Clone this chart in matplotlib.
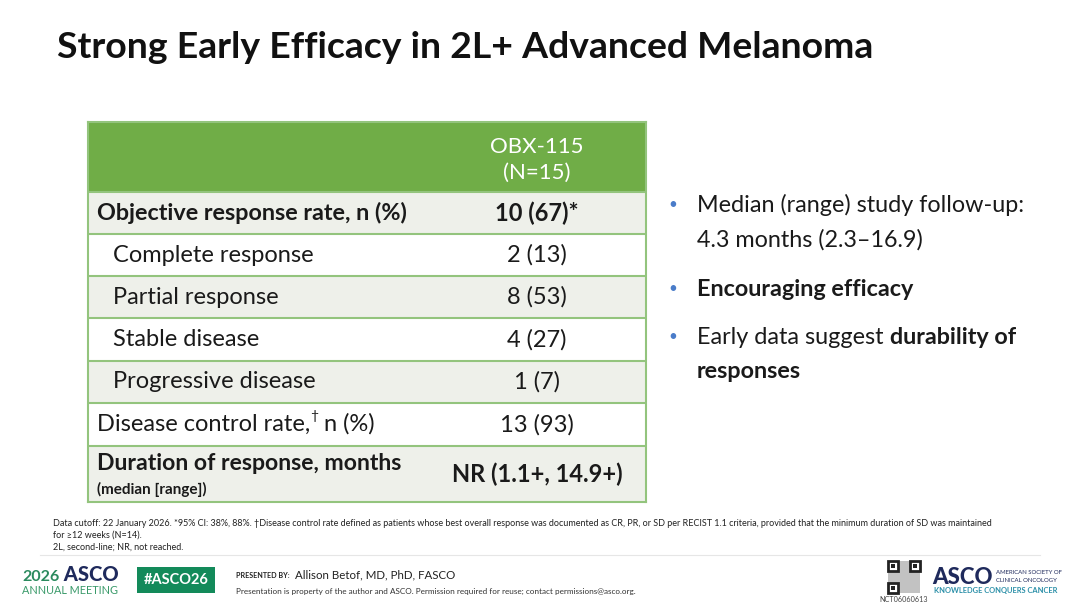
import matplotlib
matplotlib.use('Agg')
import matplotlib.pyplot as plt
from matplotlib.patches import Rectangle

plt.rcParams['font.family'] = ['Lato', 'DejaVu Sans']

# slide content
title = "Strong Early Efficacy in 2L+ Advanced Melanoma"
col_header = ["OBX-115", "(N=15)"]
row_labels = ["Objective response rate, n (%)", "Complete response", "Partial response",
              "Stable disease", "Progressive disease", "Disease control rate,",
              "Duration of response, months"]
row_values = ["10 (67)*", "2 (13)", "8 (53)", "4 (27)", "1 (7)", "13 (93)", "NR (1.1+, 14.9+)"]
row_bold = [True, False, False, False, False, False, True]
row_indent = [False, True, True, True, True, False, False]
row_shaded = [True, False, True, False, True, False, True]
dcr_suffix = " n (%)"
dor_sub = "(median [range])"

bullets = [
    [("Median (range) study follow-up:", False)],
    [("4.3 months (2.3\u201316.9)", False)],
    [("Encouraging efficacy", True)],
    [("Early data suggest ", False), ("durability of", True)],
    [("responses", True)],
]
bullet_marks = [True, False, True, True, False]

footnotes = [
    "Data cutoff: 22 January 2026. *95% CI: 38%, 88%. \u2020Disease control rate defined as patients whose best overall response was documented as CR, PR, or SD per RECIST 1.1 criteria, provided that the minimum duration of SD was maintained",
    "for \u226512 weeks (N=14).",
    "2L, second-line; NR, not reached.",
]
presenter = "Allison Betof, MD, PhD, FASCO"
disclaimer = "Presentation is property of the author and ASCO. Permission required for reuse; contact permissions@asco.org."
trial_id = "NCT06060613"

GREEN = '#70ad47'
LINE = '#93c47d'
SHADE = '#eef0ea'
TEXT = '#1a1a1a'

fig = plt.figure(figsize=(10.8, 6.08), dpi=100)
ax = fig.add_axes([0, 0, 1, 1])
ax.set_xlim(0, 1080)
ax.set_ylim(608, 0)
ax.axis('off')

ax.text(57, 47, title, fontsize=26.9, fontweight='bold', color='#111111', va='center', ha='left')

# table
x0, x1 = 88, 646
val_x = 537
head_top, head_bot = 122, 192
row_h = [42, 42, 42, 43, 42, 43, 56]

ax.add_patch(Rectangle((x0, head_top), x1 - x0, head_bot - head_top, facecolor=GREEN, edgecolor='none'))
ax.text(val_x, 147, col_header[0], fontsize=16, color='white', ha='center', va='center')
ax.text(val_x, 173, col_header[1], fontsize=16, color='white', ha='center', va='center')

y = head_bot
for i, lab in enumerate(row_labels):
    h = row_h[i]
    fc = SHADE if row_shaded[i] else 'white'
    ax.add_patch(Rectangle((x0, y), x1 - x0, h, facecolor=fc, edgecolor='none'))
    ax.plot([x0, x1], [y, y], color=LINE, lw=1.5, solid_capstyle='butt')
    lx = 113 if row_indent[i] else 97
    fw = 'bold' if row_bold[i] else 'normal'
    if i == len(row_labels) - 1:
        ax.text(lx, y + 18, lab, fontsize=16.6, fontweight='bold', color=TEXT, va='center')
        ax.text(lx, y + 43, dor_sub, fontsize=11, fontweight='bold', color=TEXT, va='center')
    else:
        t = ax.text(lx, y + h / 2, lab, fontsize=17 if not row_bold[i] else 16.8,
                    fontweight=fw, color=TEXT, va='center')
        if i == 5:
            d = ax.annotate("\u2020", xy=(1, 0.6), xycoords=t, fontsize=10, color=TEXT, va='bottom')
            ax.annotate(dcr_suffix, xy=(1, 0), xycoords=(d, t), fontsize=17, color=TEXT, va='bottom')
    ax.text(val_x, y + h / 2, row_values[i], fontsize=17, fontweight=fw, color=TEXT,
            ha='center', va='center')
    y += h
ax.plot([x0, x1], [y, y], color=LINE, lw=1.5)
ax.plot([x0, x0], [head_top, y], color=LINE, lw=1.5)
ax.plot([x1, x1], [head_top, y], color=LINE, lw=1.5)
ax.plot([x0, x1], [head_top, head_top], color=LINE, lw=1.5)

# bullets
line_y = [205, 240, 289, 337, 372]
for parts, mark, ly in zip(bullets, bullet_marks, line_y):
    if mark:
        ax.text(668, ly, "\u2022", fontsize=11, color='#4a7cc9', ha='left', va='center')
    prev = None
    for txt, bold in parts:
        fw = 'bold' if bold else 'normal'
        if prev is None:
            prev = ax.text(697, ly, txt, fontsize=16.8, fontweight=fw, color=TEXT, va='center')
        else:
            prev = ax.annotate(txt, xy=(1, 0), xycoords=prev, fontsize=16.8, fontweight=fw,
                               color=TEXT, va='bottom')

# footnotes
for k, fn in enumerate(footnotes):
    ax.text(53, 523 + k * 12, fn, fontsize=6.5, color='#222222', va='center')
ax.plot([40, 1040], [555, 555], color='#e6e6e6', lw=0.8)

# footer left
t26 = ax.text(22, 577, "2026", fontsize=11.5, fontweight='bold', color='#2b8a5e', va='center')
ax.annotate(" ASCO", xy=(1, 0), xycoords=t26, fontsize=14.5, fontweight='black', color='#1f2a5c', va='bottom')
ax.text(22, 590, "ANNUAL MEETING", fontsize=7.8, color='#3a9a6a', va='center')
ax.add_patch(Rectangle((137, 567), 78, 26, facecolor='#138a5a', edgecolor='none'))
ax.text(176, 580, "#ASCO26", fontsize=10.5, fontweight='bold', color='white', ha='center', va='center')
ax.text(236, 575, "PRESENTED BY:", fontsize=5.1, fontweight='bold', color='#222222', va='center')
ax.text(295, 575, presenter, fontsize=8.3, color='#222222', va='center')
ax.text(236, 591, disclaimer, fontsize=5.9, color='#333333', va='center')

# footer right: QR placeholder
ax.add_patch(Rectangle((888, 561), 32, 32, facecolor='#9a9a9a', edgecolor='none', alpha=0.6))
for qx, qy in [(888, 561), (910, 561), (888, 583)]:
    ax.add_patch(Rectangle((qx, qy), 10, 10, facecolor='white', edgecolor='#222222', lw=2))
    ax.add_patch(Rectangle((qx + 3, qy + 3), 4, 4, facecolor='#222222', edgecolor='none'))
ax.text(904, 600, trial_id, fontsize=5.2, color='#444444', ha='center', va='center')
ax.text(932, 578, "ASCO", fontsize=16, fontweight='black', color='#1f2a5c', va='center')
ax.text(996, 573, "AMERICAN SOCIETY OF", fontsize=4.3, color='#1f2a5c', va='center')
ax.text(996, 580, "CLINICAL ONCOLOGY", fontsize=4.3, color='#1f2a5c', va='center')
ax.text(934, 591, "KNOWLEDGE CONQUERS CANCER", fontsize=5.4, fontweight='bold', color='#2a8fa8', va='center')

fig.savefig('out.png', dpi=100, facecolor='white')
